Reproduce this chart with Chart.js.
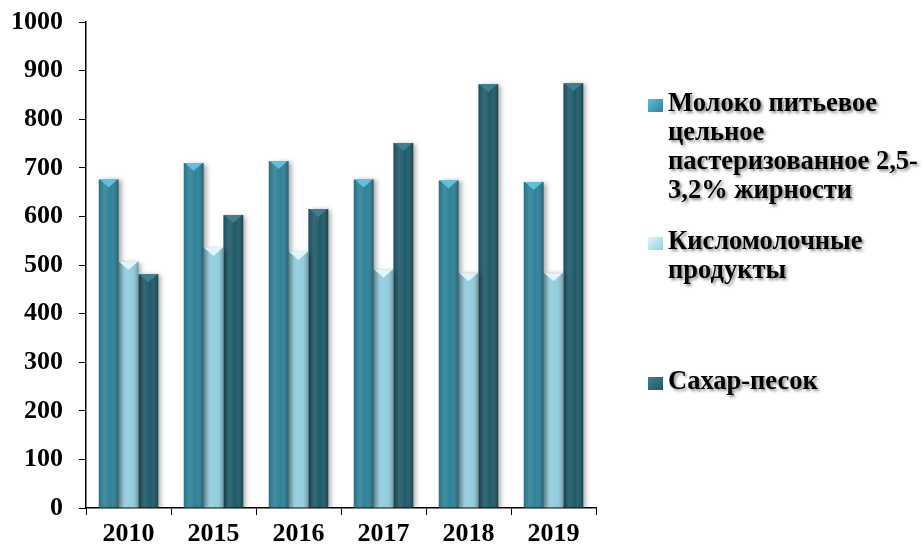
<!DOCTYPE html>
<html>
<head>
<meta charset="utf-8">
<script src="https://cdn.jsdelivr.net/npm/chart.js@4.4.0/dist/chart.umd.min.js"></script>
<style>
    body { margin: 0; background: #fff; }
    #wrap { position: relative; width: 923px; height: 549px; }
    #legend { position: absolute; left: 0; top: 0; font-family: 'Liberation Serif', 'Times New Roman', serif; font-weight: bold; font-size: 26.5px; line-height: 29px; color: #000; }
    .item { position: absolute; left: 648px; white-space: nowrap; }
    .box { position: absolute; left: 0; top: 11px; width: 15px; height: 13px; }
    .txt { position: absolute; left: 20px; top: 0; text-shadow: 2px 2px 3px rgba(0,0,0,0.45); }
</style>
</head>
<body>
<div id="wrap">
    <canvas id="chart" width="923" height="549"></canvas>
    <div id="legend"></div>
</div>
<script>
    const years = ['2010', '2015', '2016', '2017', '2018', '2019'];
    const milk = [676, 710, 714, 676, 674, 671];
    const sourMilk = [506, 535, 527, 490, 483, 483];
    const sugar = [481, 603, 615, 751, 872, 874];
    const seriesNames = [
        ['Молоко питьевое', 'цельное', 'пастеризованное 2,5-', '3,2% жирности'],
        ['Кисломолочные', 'продукты'],
        ['Сахар-песок']
    ];
    const colors = ['#2f8198', '#93cedf', '#1f5a68'];
    const bevelColors = ['#5ec0da', '#dff6fb', '#3f8090'];
    const legendTops = [88, 226, 366];

    const font = { family: "'Liberation Serif', 'Times New Roman', serif", weight: 'bold', size: 26 };

    // shading + bevelled tops drawn over the library's bars
    const barShade = {
        id: 'barShade',
        beforeDatasetsDraw(chart) {
            const ctx = chart.ctx;
            ctx.save();
            ctx.shadowColor = 'rgba(0,0,0,0.35)';
            ctx.shadowBlur = 5;
            ctx.shadowOffsetX = 3;
            ctx.shadowOffsetY = 1;
        },
        afterDatasetsDraw(chart) {
            const ctx = chart.ctx;
            ctx.restore();
            chart.data.datasets.forEach((ds, i) => {
                chart.getDatasetMeta(i).data.forEach(bar => {
                    const { x, y, base, width } = bar.getProps(['x', 'y', 'base', 'width'], true);
                    const l = x - width / 2;
                    const r = x + width / 2;
                    const g = ctx.createLinearGradient(l, 0, r, 0);
                    g.addColorStop(0, 'rgba(0,0,0,0.12)');
                    g.addColorStop(0.3, 'rgba(255,255,255,0.10)');
                    g.addColorStop(0.6, 'rgba(255,255,255,0)');
                    g.addColorStop(1, 'rgba(0,0,0,0.28)');
                    ctx.fillStyle = g;
                    ctx.fillRect(l, y, width, base - y);
                    ctx.beginPath();
                    ctx.moveTo(l + 1, y);
                    ctx.lineTo(r - 1, y);
                    ctx.lineTo(x, y + 8);
                    ctx.closePath();
                    ctx.fillStyle = ds.bevelColor;
                    ctx.fill();
                });
            });
        }
    };

    const datasets = [milk, sourMilk, sugar].map((values, i) => ({
        label: seriesNames[i].join(' '),
        data: values,
        backgroundColor: colors[i],
        bevelColor: bevelColors[i],
        borderWidth: 0,
        barPercentage: 1,
        categoryPercentage: 0.7
    }));

    new Chart(document.getElementById('chart'), {
        type: 'bar',
        data: { labels: years, datasets: datasets },
        options: {
            responsive: false,
            animation: false,
            layout: { padding: { left: 12, right: 327, top: 22, bottom: 0 } },
            plugins: {
                legend: { display: false },
                tooltip: { enabled: false }
            },
            scales: {
                x: {
                    grid: { drawOnChartArea: false, tickLength: 7, color: '#000', tickColor: '#000', offset: true },
                    border: { color: '#000', width: 1.5 },
                    ticks: { color: '#000', font: font, padding: 4 },
                    afterFit: s => { s.height = 41; }
                },
                y: {
                    min: 0,
                    max: 1000,
                    ticks: { stepSize: 100, color: '#000', font: font, padding: 16, callback: v => String(v) },
                    grid: { drawOnChartArea: false, tickLength: 7, color: '#000', tickColor: '#000' },
                    border: { color: '#000', width: 1.5 },
                    afterFit: s => { s.width = 74; s.paddingTop = 0; s.paddingBottom = 0; }
                }
            }
        },
        plugins: [barShade]
    });

    const legend = document.getElementById('legend');
    seriesNames.forEach((lines, i) => {
        const item = document.createElement('div');
        item.className = 'item';
        item.style.top = legendTops[i] + 'px';
        item.innerHTML = `
            <div class="box" style="background: linear-gradient(135deg, ${bevelColors[i]}, ${colors[i]})"></div>
            <div class="txt">${lines.join('<br>')}</div>
        `;
        legend.appendChild(item);
    });
</script>
</body>
</html>
